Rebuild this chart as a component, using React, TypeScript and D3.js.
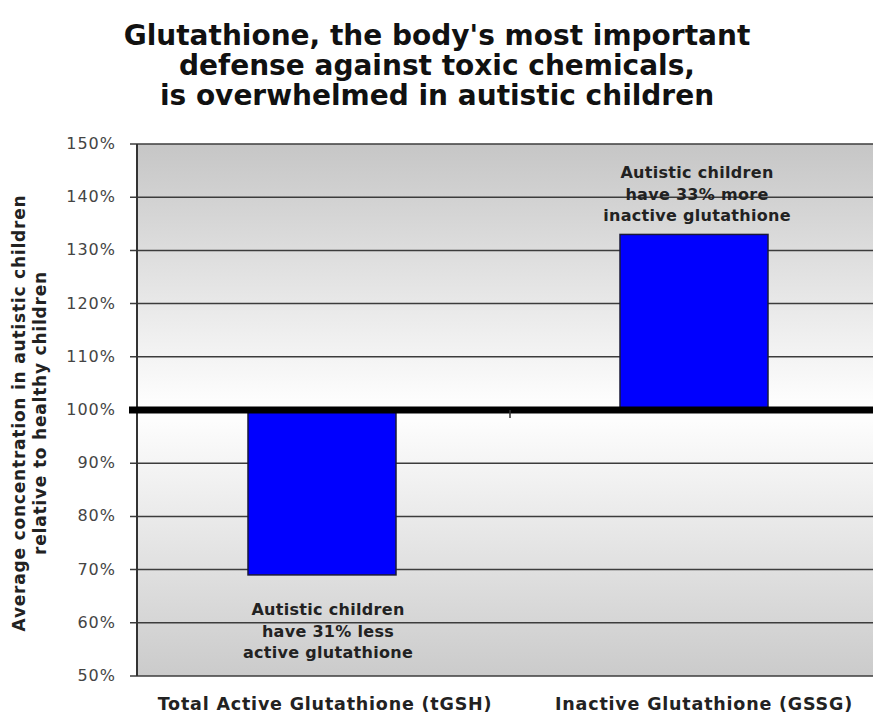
import React, { useEffect, useRef } from 'react';
import * as d3 from 'd3';

const categories = ['Total Active Glutathione (tGSH)', 'Inactive Glutathione (GSSG)'];
const values = [69, 133];
const notes = [
	['Autistic children', 'have 31% less', 'active glutathione'],
	['Autistic children', 'have 33% more', 'inactive glutathione'],
];
const yTicks = [50, 60, 70, 80, 90, 100, 110, 120, 130, 140, 150];
const titleLines = [
	"Glutathione, the body's most important",
	'defense against toxic chemicals,',
	'is overwhelmed in autistic children',
];
const yTitle = ['Average concentration in autistic children', 'relative to healthy children'];

const App = () => {
	const ref = useRef<SVGSVGElement>(null);
	useEffect(() => drawChart());

	function drawChart() {
		const width = 873, height = 715;
		const left = 137, right = 873, top = 144, bottom = 676;
		const font = 'Verdana, "DejaVu Sans", sans-serif';
		const svg = d3.select(ref.current);
		svg.selectAll('*').remove();

		const y = d3.scaleLinear().domain([50, 150]).range([bottom, top]);
		const x = d3.scaleBand().domain(categories).range([left, right]).paddingInner(0).paddingOuter(0);

		const defs = svg.append('defs');
		const grad = defs.append('linearGradient').attr('id', 'bg').attr('x1', 0).attr('y1', 0).attr('x2', 0).attr('y2', 1);
		const mid = (y(100) - top) / (bottom - top);
		grad.append('stop').attr('offset', 0).attr('stop-color', '#c6c6c6');
		grad.append('stop').attr('offset', mid).attr('stop-color', '#ffffff');
		grad.append('stop').attr('offset', 1).attr('stop-color', '#cbcbcb');

		svg.append('rect').attr('width', width).attr('height', height).attr('fill', '#fff');
		svg.append('rect')
			.attr('x', left).attr('y', top)
			.attr('width', right - left).attr('height', bottom - top)
			.attr('fill', 'url(#bg)');

		// gridlines
		svg.selectAll('.grid')
			.data(yTicks)
			.enter()
			.append('line')
			.attr('x1', left - 7).attr('x2', right)
			.attr('y1', (d) => y(d)).attr('y2', (d) => y(d))
			.attr('stroke', '#3c3c3c')
			.attr('stroke-width', 1.5);

		svg.selectAll('.ytick')
			.data(yTicks)
			.enter()
			.append('text')
			.text((d) => d + '%')
			.attr('x', 116)
			.attr('y', (d) => y(d) + 5)
			.attr('text-anchor', 'end')
			.attr('font-family', font)
			.attr('font-size', 16)
			.attr('letter-spacing', 1)
			.attr('fill', '#444');

		// left axis
		svg.append('line')
			.attr('x1', left).attr('x2', left)
			.attr('y1', top).attr('y2', bottom)
			.attr('stroke', '#333').attr('stroke-width', 2);

		// bars
		const bw = 148;
		svg.selectAll('.bar')
			.data(values)
			.enter()
			.append('rect')
			.attr('x', (d, i) => (x(categories[i]) as number) + x.bandwidth() / 2 - bw / 2 + 1 + i * 4)
			.attr('y', (d) => Math.min(y(d), y(100)))
			.attr('width', bw)
			.attr('height', (d) => Math.abs(y(d) - y(100)))
			.attr('fill', '#0000ff')
			.attr('stroke', '#1a1a3a')
			.attr('stroke-width', 1.5);

		// baseline at 100%
		svg.append('line')
			.attr('x1', left - 8).attr('x2', right)
			.attr('y1', y(100)).attr('y2', y(100))
			.attr('stroke', '#000').attr('stroke-width', 7);
		svg.append('line')
			.attr('x1', 510).attr('x2', 510)
			.attr('y1', y(100)).attr('y2', y(100) + 8)
			.attr('stroke', '#333').attr('stroke-width', 1.5);

		// annotations
		const noteY = [600, 163];
		notes.forEach((lines, i) => {
			const cx = (x(categories[i]) as number) + x.bandwidth() / 2 + 7 + i * 1;
			svg.append('text')
				.attr('text-anchor', 'middle')
				.attr('font-family', font)
				.attr('font-weight', 'bold')
				.attr('font-size', 16)
				.attr('letter-spacing', 0.3)
				.attr('fill', '#222')
				.selectAll('tspan')
				.data(lines)
				.enter()
				.append('tspan')
				.attr('x', cx)
				.attr('y', (d, j) => noteY[i] + 15 + j * 21.5)
				.text((d) => d);
		});

		// category labels
		svg.selectAll('.cat')
			.data(categories)
			.enter()
			.append('text')
			.text((d) => d)
			.attr('x', (d, i) => (x(d) as number) + x.bandwidth() / 2 + (i ? 15 : 4))
			.attr('y', 710)
			.attr('text-anchor', 'middle')
			.attr('font-family', font)
			.attr('font-weight', 'bold')
			.attr('font-size', 17.5)
			.attr('letter-spacing', 0.8)
			.attr('fill', '#222');

		// title
		svg.append('text')
			.attr('text-anchor', 'middle')
			.attr('font-family', font)
			.attr('font-weight', 'bold')
			.attr('font-size', 28)
			.attr('fill', '#111')
			.selectAll('tspan')
			.data(titleLines)
			.enter()
			.append('tspan')
			.attr('x', 437)
			.attr('y', (d, i) => 45 + i * 30)
			.text((d) => d);

		// y title
		svg.append('text')
			.attr('transform', 'translate(25,' + 413 + ') rotate(-90)')
			.attr('text-anchor', 'middle')
			.attr('font-family', font)
			.attr('font-weight', 'bold')
			.attr('font-size', 17)
			.attr('letter-spacing', 0.8)
			.attr('fill', '#222')
			.selectAll('tspan')
			.data(yTitle)
			.enter()
			.append('tspan')
			.attr('x', 0)
			.attr('y', (d, i) => i * 21)
			.text((d) => d);
	}

	return (
		<svg ref={ref} width={873} height={715} style={{ position: 'absolute', left: 0, top: 0 }} />
	);
};

export default App;
